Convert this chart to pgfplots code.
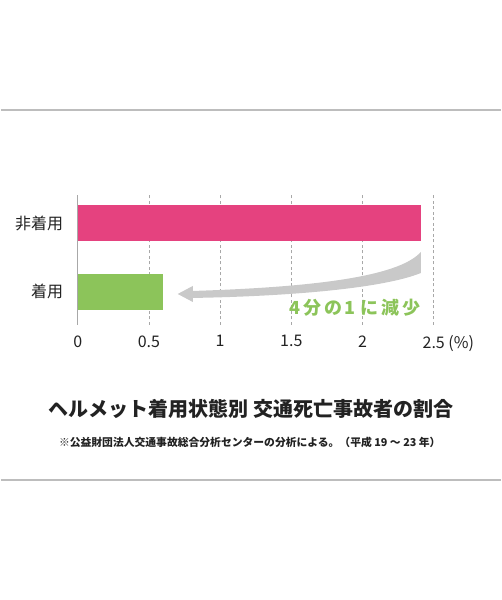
\documentclass[border=0pt]{standalone}
\usepackage{fontspec}
\setmainfont{Noto Sans CJK JP}
\usepackage{pgfplots}
\pgfplotsset{compat=1.18}
\definecolor{barpink}{HTML}{E5427F}
\definecolor{bargreen}{HTML}{8CC45A}
\definecolor{arrowgray}{HTML}{C9C9C9}
\definecolor{gridgray}{HTML}{A8A8A8}
\definecolor{rulegray}{HTML}{BDBDBD}
\definecolor{textdark}{HTML}{222222}
\begin{document}
\begin{tikzpicture}
\path (0bp,0bp) rectangle (500bp,600bp);
\draw[rulegray, line width=1.5bp] (0bp,490bp) -- (500bp,490bp);
\draw[rulegray, line width=1.2bp] (0bp,120bp) -- (500bp,120bp);
\begin{axis}[
  at={(77bp,275bp)}, anchor=south west,
  scale only axis, width=356bp, height=130bp,
  xmin=0, xmax=2.5, ymin=-0.489, ymax=1.409,
  clip=false,
  axis x line*=bottom, axis y line*=left,
  separate axis lines,
  x axis line style={draw=none},
  y axis line style={draw=gridgray, line width=0.8bp, -},
  xtick={0,0.5,1,1.5,2,2.5},
  xticklabels={0,0.5,1,1.5,2,{2.5\rlap{ (\%)}}},
  ytick={0,1},
  yticklabels={着用,非着用},
  major tick length=0pt,
  xmajorgrids,
  grid style={dash pattern=on 3bp off 2.5bp, gridgray, line width=0.6bp},
  /pgf/number format/assume math mode=true,
  xticklabel style={font=\fontsize{16bp}{18bp}\selectfont, text=textdark, yshift=-7bp},
  yticklabel style={font=\fontsize{16bp}{18bp}\selectfont, text=textdark, xshift=-11bp},
  xbar, bar width=36bp, bar shift=0pt,
]
\addplot[fill=barpink, draw=none] coordinates {(2.41,1)};
\addplot[fill=bargreen, draw=none] coordinates {(0.60,0)};
\fill[arrowgray] (axis cs:0.702,-0.036) -- (axis cs:0.808,0.081) -- (axis cs:0.808,0.008)
  .. controls (axis cs:1.6,0.06) and (axis cs:2.25,0.2) .. (axis cs:2.409,0.577)
  -- (axis cs:2.409,0.270)
  .. controls (axis cs:2.15,0.05) and (axis cs:1.5,-0.07) .. (axis cs:0.808,-0.094)
  -- (axis cs:0.808,-0.153) -- cycle;
\node[anchor=east, text=bargreen, inner sep=0pt,
  font=\fontsize{18bp}{20bp}\selectfont\bfseries\addfontfeatures{LetterSpace=16}]
  at (axis cs:2.405,-0.241) {4分の\hspace{2bp}1\hspace{5bp}に減少};
\end{axis}
\node[text=textdark, font=\fontsize{20bp}{23bp}\selectfont\bfseries] at (250bp,191bp)
  {ヘルメット着用状態別 交通死亡事故者の割合};
\node[text=textdark, font=\fontsize{10.8bp}{12bp}\selectfont\bfseries] at (249bp,158bp)
  {※公益財団法人交通事故総合分析センターの分析による。（平成 19 ～ 23 年）};
\end{tikzpicture}
\end{document}
